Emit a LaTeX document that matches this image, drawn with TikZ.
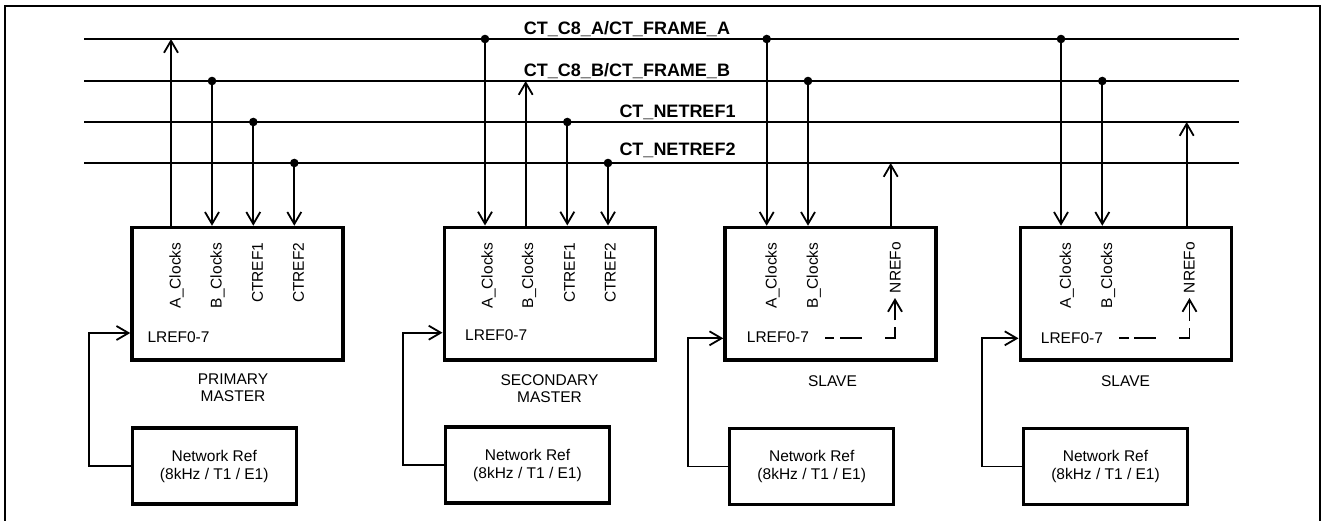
\documentclass[tikz,border=0pt]{standalone}
\usepackage{fontspec}
\setmainfont{Liberation Sans}
\usetikzlibrary{arrows.meta}
\newcommand\fsreg{\fontsize{15.5pt}{18pt}\selectfont}
\newcommand\fslab{\fontsize{15.5pt}{17pt}\selectfont}
\newcommand\fsbold{\fontsize{18pt}{20pt}\selectfont\bfseries}
\begin{document}
\begin{tikzpicture}[x=1pt,y=-1pt,
  bus/.style={line width=1.8pt},
  conn/.style={line width=1.8pt},
  arr/.style={conn,-{Straight Barb[length=12pt,width=14pt]}},
  dot/.style={circle,fill=black,inner sep=0pt,minimum size=8.6pt},
  mainbox/.style={draw,line width=3.5pt,minimum width=211pt,minimum height=132.5pt,inner sep=0pt},
  refbox/.style={draw,line width=3.3pt,minimum width=164pt,minimum height=76pt,align=center,inner sep=0pt,font=\fsreg},
  buslabel/.style={font=\fsbold,anchor=base,inner sep=0pt},
  vlabel/.style={font=\fsreg,rotate=90,anchor=base east,inner sep=0pt},
  txt/.style={font=\fsreg,inner sep=0pt},
  roletxt/.style={font=\fslab,inner sep=0pt,align=center}]
\useasboundingbox (0,0) rectangle (1322,520);
\draw[line width=2pt] (5,521) -- (5,5.7) -- (1320,5.7) -- (1320,521);

% bus lines
\coordinate (La) at (84,39);   \coordinate (Ra) at (1239,39);
\coordinate (Lb) at (84,81);   \coordinate (Rb) at (1239,81);
\coordinate (Lc) at (84,122);  \coordinate (Rc) at (1239,122);
\coordinate (Ld) at (84,163);  \coordinate (Rd) at (1239,163);
\draw[bus] (La) -- (Ra);
\draw[bus] (Lb) -- (Rb);
\draw[bus] (Lc) -- (Rc);
\draw[bus] (Ld) -- (Rd);
\node[buslabel] (lbA) at (627,34.5) {CT\_C8\_A/CT\_FRAME\_A};
\node[buslabel] (lbB) at (627,76) {CT\_C8\_B/CT\_FRAME\_B};
\node[buslabel] (lbC) at (677.5,117.3) {CT\_NETREF1};
\node[buslabel] (lbD) at (677.5,155) {CT\_NETREF2};

% main boxes
\node[mainbox] (pm) at (237.5,293.75) {};
\node[mainbox] (sm) at (549.75,293.5) {};
\node[mainbox] (s1) at (830.5,293.75) {};
\node[mainbox] (s2) at (1125.75,293.75) {};

% network ref boxes
\node[refbox] (n1) at (214.25,466) {Network Ref\\(8kHz / T1 / E1)};
\node[refbox] (n2) at (527.5,465) {Network Ref\\(8kHz / T1 / E1)};
\node[refbox] (n3) at (811.75,466.5) {Network Ref\\(8kHz / T1 / E1)};
\node[refbox] (n4) at (1105.5,466.5) {Network Ref\\(8kHz / T1 / E1)};

% role labels
\node[roletxt,anchor=north] (r1) at (233,374) {PRIMARY\\MASTER};
\node[roletxt,anchor=north] (r2) at (549.5,374.6) {SECONDARY\\MASTER};
\node[roletxt,anchor=base] (r3) at (832.5,386) {SLAVE};
\node[roletxt,anchor=base] (r4) at (1125.5,386) {SLAVE};

% primary master connections
\coordinate (pA) at (171,39);
\draw[arr] (pA |- pm.north) -- (pA);
\node[dot] (pB) at (212,81) {};
\draw[arr] (pB.center) -- (pB |- pm.north);
\node[dot] (pC) at (253.3,122) {};
\draw[arr] (pC.center) -- (pC |- pm.north);
\node[dot] (pD) at (294.3,163) {};
\draw[arr] (pD.center) -- (pD |- pm.north);
\node[vlabel] (pAl) at (180.5,242.5) {A\_Clocks};
\node[vlabel] (pBl) at (221.5,242.5) {B\_Clocks};
\node[vlabel] (pCl) at (262.8,242.5) {CTREF1};
\node[vlabel] (pDl) at (303.8,242.5) {CTREF2};
\node[txt,anchor=base west] (pL) at (147.3,342.3) {LREF0-7};

% secondary master connections
\node[dot] (sA) at (485,39) {};
\draw[arr] (sA.center) -- (sA |- sm.north);
\coordinate (sB) at (525.7,81);
\draw[arr] (sB |- sm.north) -- (sB);
\node[dot] (sC) at (567.3,122) {};
\draw[arr] (sC.center) -- (sC |- sm.north);
\node[dot] (sD) at (608,163) {};
\draw[arr] (sD.center) -- (sD |- sm.north);
\node[vlabel] (sAl) at (492.5,242.5) {A\_Clocks};
\node[vlabel] (sBl) at (533.2,242.5) {B\_Clocks};
\node[vlabel] (sCl) at (574.8,242.5) {CTREF1};
\node[vlabel] (sDl) at (615.5,242.5) {CTREF2};
\node[txt,anchor=base west] (sL) at (465,340) {LREF0-7};

% slave 1 connections
\node[dot] (aA) at (766.7,39) {};
\draw[arr] (aA.center) -- (aA |- s1.north);
\node[dot] (aB) at (808,81) {};
\draw[arr] (aB.center) -- (aB |- s1.north);
\coordinate (aN) at (890.7,163);
\draw[arr] (aN |- s1.north) -- (aN);
\node[vlabel] (aAl) at (776.5,242.5) {A\_Clocks};
\node[vlabel] (aBl) at (817.8,242.5) {B\_Clocks};
\node[vlabel] (aNl) at (900.5,242) {NREFo};
\node[txt,anchor=base west] (aL) at (746.7,342.3) {LREF0-7};
\coordinate (ad0) at (825,338.3);
\coordinate (ad1) at (895,298);
\draw[arr,dash pattern=on 9pt off 6pt on 22pt off 23pt on 21pt off 7pt on 22pt off 60pt] (ad0) -| (ad1);

% slave 2 connections
\node[dot] (bA) at (1061,39) {};
\draw[arr] (bA.center) -- (bA |- s2.north);
\node[dot] (bB) at (1102.3,81) {};
\draw[arr] (bB.center) -- (bB |- s2.north);
\coordinate (bN) at (1186.7,122);
\draw[arr] (bN |- s2.north) -- (bN);
\node[vlabel] (bAl) at (1070.8,242.5) {A\_Clocks};
\node[vlabel] (bBl) at (1112,242.5) {B\_Clocks};
\node[vlabel] (bNl) at (1194.5,242) {NREFo};
\node[txt,anchor=base west] (bL) at (1040.7,343.3) {LREF0-7};
\coordinate (bd0) at (1119.3,338.3);
\coordinate (bd1) at (1189.5,298);
\draw[arr,dash pattern=on 10pt off 5pt on 22pt off 23pt on 21pt off 7pt on 22pt off 60pt] (bd0) -| (bd1);

% feedback from network refs
\coordinate (f1) at (89,333);
\draw[arr] (n1.west) -| (f1) -- (f1 -| pm.west);
\coordinate (f2) at (402.7,332.7);
\draw[arr] (n2.west) -| (f2) -- (f2 -| sm.west);
\coordinate (f3) at (688.3,338.3);
\draw[arr] (n3.west) -| (f3) -- (f3 -| s1.west);
\coordinate (f4) at (982.3,338.3);
\draw[arr] (n4.west) -| (f4) -- (f4 -| s2.west);
\end{tikzpicture}
\end{document}
